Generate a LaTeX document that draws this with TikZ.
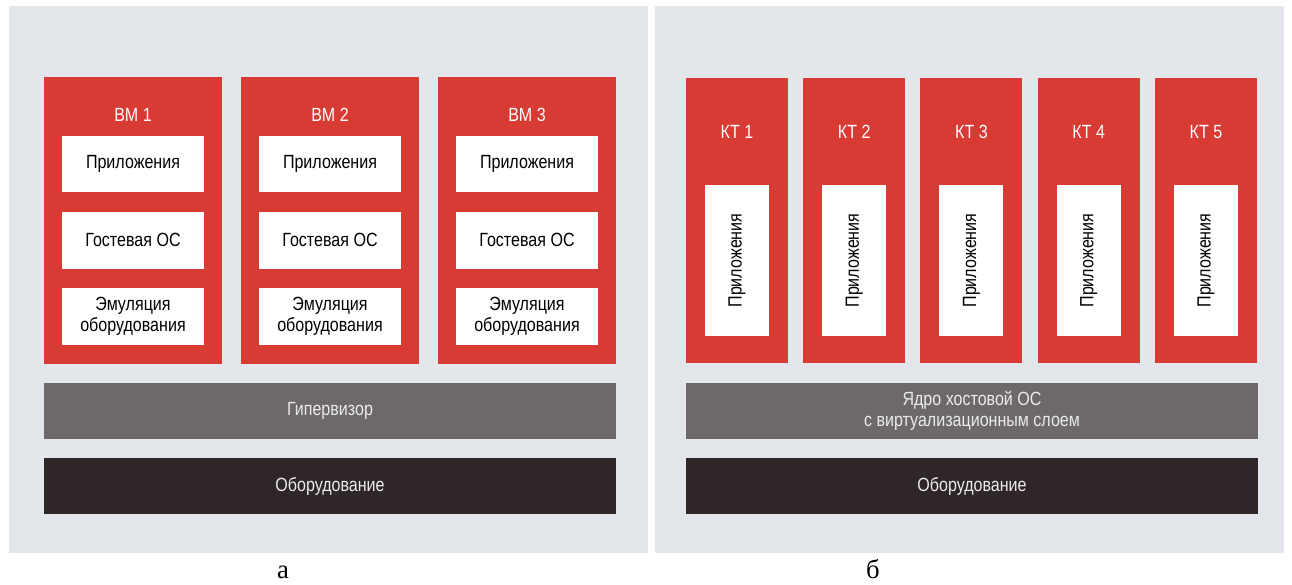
\documentclass[tikz,border=0pt]{standalone}
\usepackage{fontspec}
\setmainfont{Liberation Sans}[FakeStretch=0.84]
\newfontfamily\captionserif{Liberation Serif}

\definecolor{panelgray}{RGB}{227,230,235}
\definecolor{vmred}{RGB}{216,58,52}
\definecolor{layergray}{RGB}{109,105,106}
\definecolor{hwdark}{RGB}{47,38,39}

\begin{document}
\begin{tikzpicture}[x=1cm,y=1cm,
    boxtext/.style={inner sep=0pt,outer sep=0pt,align=center,
        font=\fontsize{13.6}{15}\selectfont},
    title/.style={boxtext,text=white},
    appbox/.style={boxtext,fill=white,text=black,
        minimum width=3.55cm,minimum height=1.42cm},
    ctbox/.style={boxtext,fill=white,text=black,rotate=90,
        minimum width=3.775cm,minimum height=1.6cm},
    layerbar/.style={boxtext,text=black!8,
        minimum width=14.3cm,minimum height=1.42cm},
    sublabel/.style={inner sep=0pt,anchor=base,
        font=\captionserif\fontsize{19}{22}\selectfont}]
        \useasboundingbox (0,0) rectangle (32.3,14.6);

        % Fondos de los dos esquemas
        \fill[panelgray] (0.225,0.775) rectangle (16.20,14.45);
        \fill[panelgray] (16.375,0.775) rectangle (32.10,14.45);

        %----------------------------------------------------------
        % Máquinas virtuales
        \fill[vmred] (1.10,5.50) rectangle (5.55,12.675);
        \node[title] (vm1) at (3.325,11.725) {ВМ 1};
        \node[appbox] (app1) at (3.325,10.50) {Приложения};
        \node[appbox] (guest1) at (3.325,8.59) {Гостевая ОС};
        \node[appbox] (emul1) at (3.325,6.69) {Эмуляция\\оборудования};

        \fill[vmred] (6.025,5.50) rectangle (10.475,12.675);
        \node[title] (vm2) at (8.25,11.725) {ВМ 2};
        \node[appbox] (app2) at (8.25,10.50) {Приложения};
        \node[appbox] (guest2) at (8.25,8.59) {Гостевая ОС};
        \node[appbox] (emul2) at (8.25,6.69) {Эмуляция\\оборудования};

        \fill[vmred] (10.95,5.50) rectangle (15.40,12.675);
        \node[title] (vm3) at (13.175,11.725) {ВМ 3};
        \node[appbox] (app3) at (13.175,10.50) {Приложения};
        \node[appbox] (guest3) at (13.175,8.59) {Гостевая ОС};
        \node[appbox] (emul3) at (13.175,6.69) {Эмуляция\\оборудования};

        % Capas inferiores
        \node[layerbar,fill=layergray] (hyper) at (8.25,4.325) {Гипервизор};
        \node[layerbar,fill=hwdark] (hwa) at (8.25,2.45) {Оборудование};

        %----------------------------------------------------------
        % Contenedores
        \fill[vmred] (17.15,5.525) rectangle (19.70,12.65);
        \node[title] (ct1) at (18.425,11.30) {КТ 1};
        \node[ctbox] (ctapp1) at (18.425,8.0875) {Приложения};

        \fill[vmred] (20.081,5.525) rectangle (22.631,12.65);
        \node[title] (ct2) at (21.356,11.30) {КТ 2};
        \node[ctbox] (ctapp2) at (21.356,8.0875) {Приложения};

        \fill[vmred] (23.012,5.525) rectangle (25.562,12.65);
        \node[title] (ct3) at (24.287,11.30) {КТ 3};
        \node[ctbox] (ctapp3) at (24.287,8.0875) {Приложения};

        \fill[vmred] (25.943,5.525) rectangle (28.493,12.65);
        \node[title] (ct4) at (27.218,11.30) {КТ 4};
        \node[ctbox] (ctapp4) at (27.218,8.0875) {Приложения};

        \fill[vmred] (28.874,5.525) rectangle (31.424,12.65);
        \node[title] (ct5) at (30.149,11.30) {КТ 5};
        \node[ctbox] (ctapp5) at (30.149,8.0875) {Приложения};

        % Capas inferiores
        \node[layerbar,fill=layergray] (kernel) at (24.30,4.325)
            {Ядро хостовой ОС\\с виртуализационным слоем};
        \node[layerbar,fill=hwdark] (hwb) at (24.30,2.45) {Оборудование};

        % Rótulos de los esquemas
        \node[sublabel] (capa) at (7.075,0.14) {а};
        \node[sublabel] (capb) at (21.825,0.14) {б};
    \end{tikzpicture}
\end{document}
